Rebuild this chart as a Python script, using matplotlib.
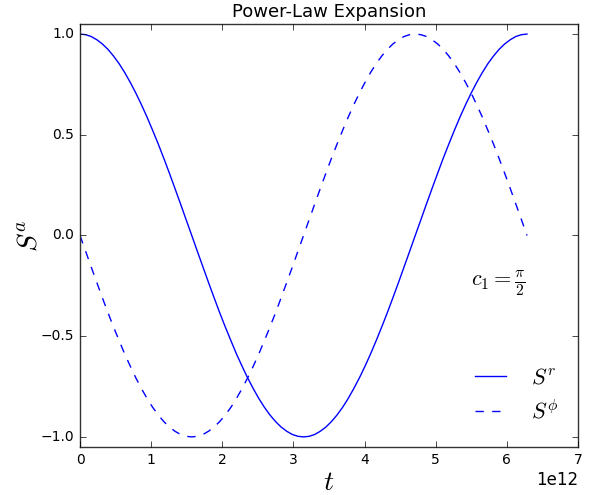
import matplotlib
matplotlib.use("Agg")
import matplotlib.pyplot as plt
import numpy as np

# time samples (units of 1e12) and the two spin components
t_vals = [0.000, 0.079, 0.157, 0.236, 0.314, 0.393, 0.471, 0.550, 0.628, 0.707,
          0.785, 0.864, 0.942, 1.021, 1.100, 1.178, 1.257, 1.335, 1.414, 1.492,
          1.571, 1.649, 1.728, 1.806, 1.885, 1.963, 2.042, 2.121, 2.199, 2.278,
          2.356, 2.435, 2.513, 2.592, 2.670, 2.749, 2.827, 2.906, 2.985, 3.063,
          3.142, 3.220, 3.299, 3.377, 3.456, 3.534, 3.613, 3.691, 3.770, 3.848,
          3.927, 4.006, 4.084, 4.163, 4.241, 4.320, 4.398, 4.477, 4.555, 4.634,
          4.712, 4.791, 4.869, 4.948, 5.027, 5.105, 5.184, 5.262, 5.341, 5.419,
          5.498, 5.576, 5.655, 5.733, 5.812, 5.890, 5.969, 6.048, 6.126, 6.205,
          6.283]
s_r = [1.000, 0.997, 0.988, 0.972, 0.951, 0.924, 0.891, 0.853, 0.809, 0.760,
       0.707, 0.649, 0.588, 0.522, 0.454, 0.383, 0.309, 0.233, 0.156, 0.078,
       0.000, -0.078, -0.156, -0.233, -0.309, -0.383, -0.454, -0.522, -0.588, -0.649,
       -0.707, -0.760, -0.809, -0.853, -0.891, -0.924, -0.951, -0.972, -0.988, -0.997,
       -1.000, -0.997, -0.988, -0.972, -0.951, -0.924, -0.891, -0.853, -0.809, -0.760,
       -0.707, -0.649, -0.588, -0.522, -0.454, -0.383, -0.309, -0.233, -0.156, -0.078,
       0.000, 0.078, 0.156, 0.233, 0.309, 0.383, 0.454, 0.522, 0.588, 0.649,
       0.707, 0.760, 0.809, 0.853, 0.891, 0.924, 0.951, 0.972, 0.988, 0.997,
       1.000]
s_phi = [0.000, -0.078, -0.156, -0.233, -0.309, -0.383, -0.454, -0.522, -0.588, -0.649,
         -0.707, -0.760, -0.809, -0.853, -0.891, -0.924, -0.951, -0.972, -0.988, -0.997,
         -1.000, -0.997, -0.988, -0.972, -0.951, -0.924, -0.891, -0.853, -0.809, -0.760,
         -0.707, -0.649, -0.588, -0.522, -0.454, -0.383, -0.309, -0.233, -0.156, -0.078,
         0.000, 0.078, 0.156, 0.233, 0.309, 0.383, 0.454, 0.522, 0.588, 0.649,
         0.707, 0.760, 0.809, 0.853, 0.891, 0.924, 0.951, 0.972, 0.988, 0.997,
         1.000, 0.997, 0.988, 0.972, 0.951, 0.924, 0.891, 0.853, 0.809, 0.760,
         0.707, 0.649, 0.588, 0.522, 0.454, 0.383, 0.309, 0.233, 0.156, 0.078,
         0.000]
T_SCALE = 1e12

plt.style.use("classic")
plt.rcParams["mathtext.fontset"] = "cm"

t = np.array(t_vals) * T_SCALE

fig = plt.figure(figsize=(5.9, 4.95), dpi=100, facecolor="white")
ax = fig.add_axes([0.1356, 0.097, 0.8441, 0.8545])

ax.plot(t, s_r, color="blue", linestyle="-", label=r"$S^r$", antialiased=True)
ax.plot(t, s_phi, color="blue", linestyle="--", label=r"$S^\phi$", antialiased=True)

ax.set_xlim(0, 7e12)
ax.set_ylim(-1.05, 1.05)
ax.set_yticks([-1.0, -0.5, 0.0, 0.5, 1.0])
ax.tick_params(labelsize=10)
for sp in ax.spines.values():
    sp.set_color("#333333")

ax.set_title("Power-Law Expansion", fontsize=13)
ax.set_xlabel(r"$t$", fontsize=20, labelpad=1)
ax.set_ylabel(r"$S^a$", fontsize=20, labelpad=-1)
ax.text(5.5e12, -0.24, r"$c_1 = \frac{\pi}{2}$", fontsize=16, va="center")

ax.legend(loc="lower right", bbox_to_anchor=(1.0, 0.01), frameon=False,
          fontsize=16, handlelength=2.0)

fig.savefig("out.png", dpi=100, facecolor="white")
